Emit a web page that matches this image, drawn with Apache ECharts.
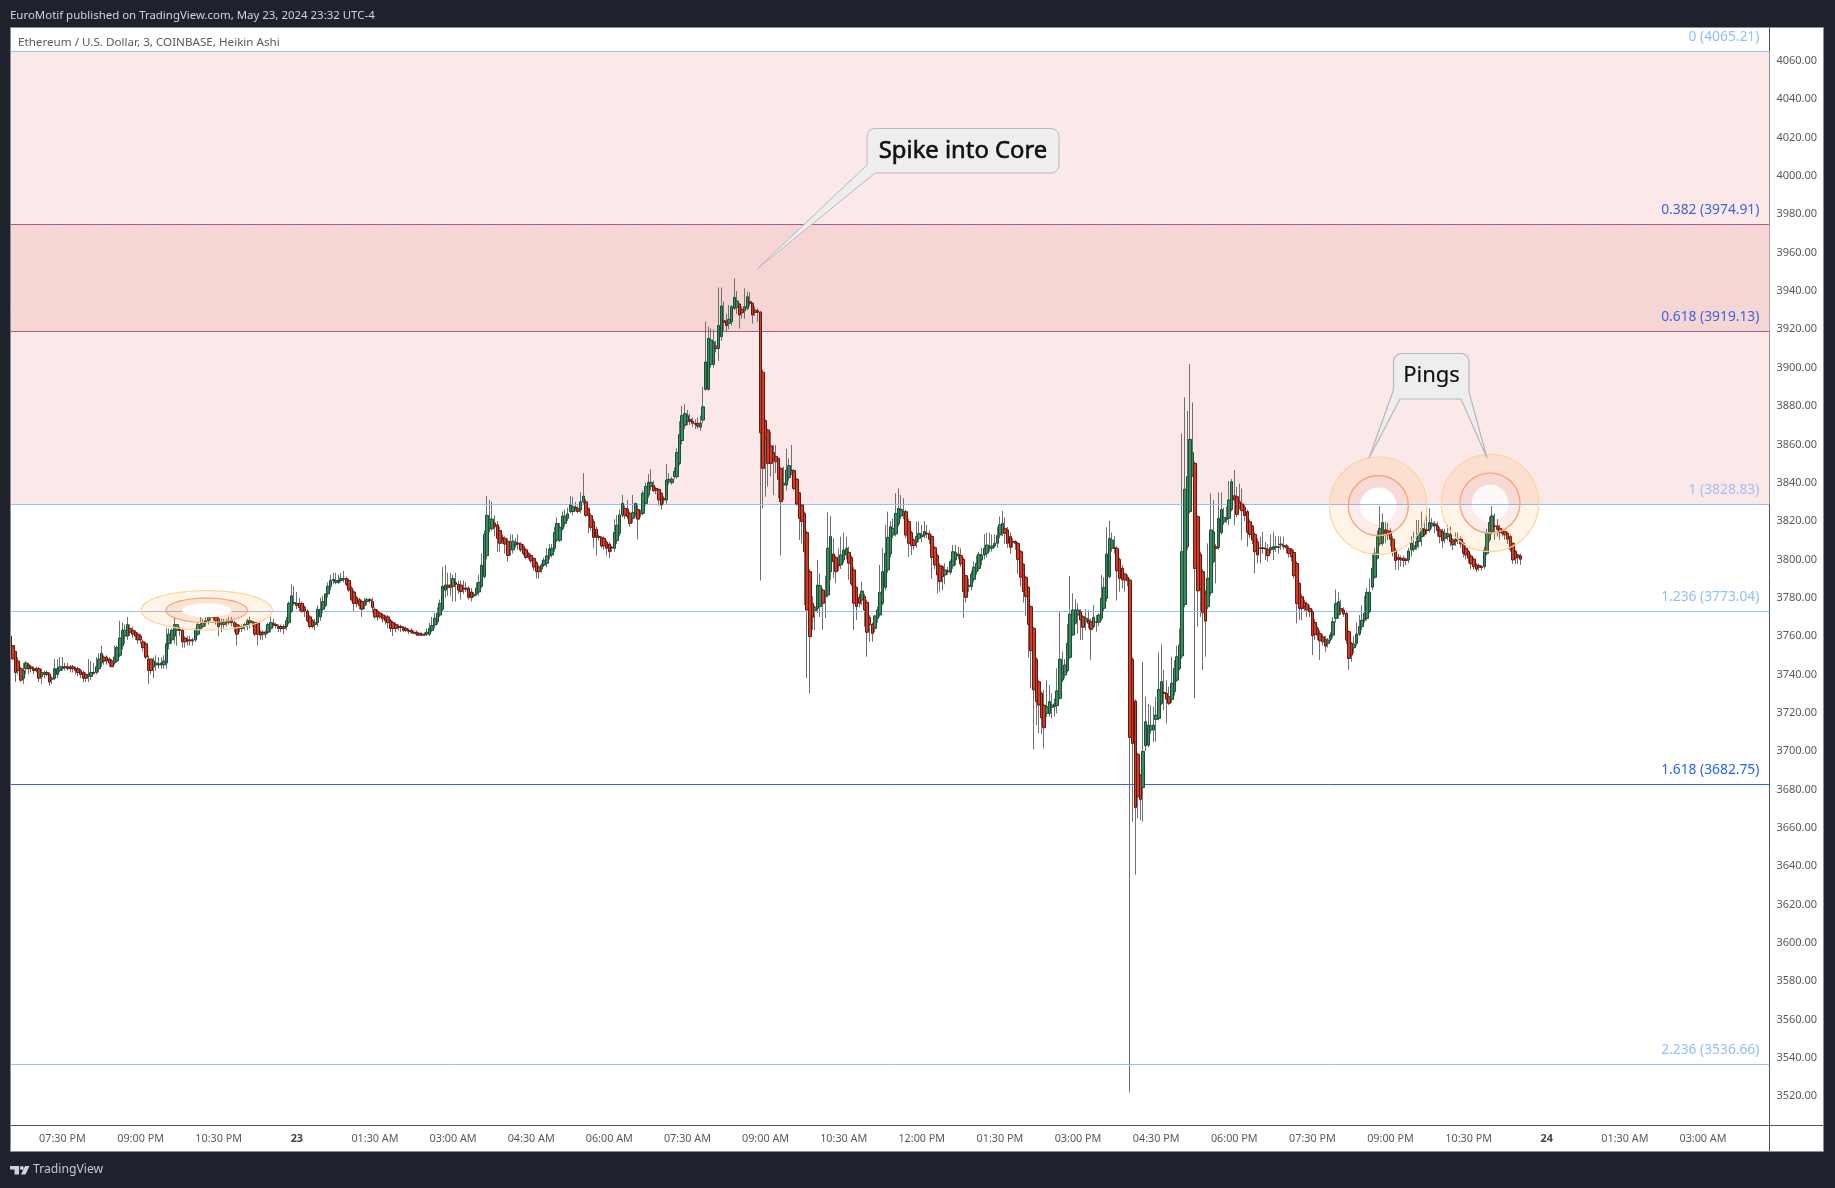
<!DOCTYPE html>
<html><head><meta charset="utf-8">
<style>html,body{margin:0;padding:0;background:#1e222d}#c{width:1835px;height:1188px}</style>
<script src="https://cdn.jsdelivr.net/npm/echarts@6/dist/echarts.min.js"></script>
</head><body><div id="c"></div>
<script>
const opens=[3760,3755,3752,3747,3743,3738,3743,3745,3744,3743,
3743,3743,3739,3740,3741,3740,3737.5,3738,3740,3742,
3743,3744,3744,3744,3744,3743,3743,3742,3741,3740,
3739,3739,3741,3741,3743,3746,3749,3749,3748,3747,
3746,3747,3750,3755,3760,3760,3764,3763,3762,3761,
3760,3757,3756,3748,3748,3744,3745,3745,3745,3745,
3746,3756,3758,3760,3763,3763.5,3763,3759,3758,3758,
3758,3758,3761,3764,3765,3767,3768,3770,3769.5,3770,
3769,3766,3766,3767,3767,3768,3767,3766,3764,3764,
3765,3766,3768,3767,3767,3767,3762,3762,3761,3762,
3764,3766.5,3766,3765,3765,3765,3765,3767,3773,3777,
3777,3777,3777,3775,3773,3770,3768,3766,3767,3770,
3774,3776,3782,3786,3789,3788,3788,3789,3789.5,3790,
3789,3785,3783,3780,3779,3778,3776,3778,3779,3778,
3774,3773,3772,3771,3770,3770,3768,3767,3766,3765,
3765,3764.5,3764,3763,3763,3762,3762,3761.5,3761,3760.5,
3761,3761,3763,3765.8,3767.5,3771,3774,3784,3786.6,3786.6,
3785.8,3788,3787,3786.6,3785,3785,3785,3783,3781,3782,
3783,3786,3791,3802,3816,3816,3819,3818,3815,3811.5,
3811,3809.5,3805,3805,3807.5,3808.5,3808,3806.6,3805,3803,
3802,3800.5,3798.3,3796,3795,3797,3798,3801.8,3802.3,3805.8,
3810,3810,3816,3818.8,3821.4,3825,3825,3827.2,3826.6,3825.8,
3830,3830,3826.6,3822.8,3819.7,3815.7,3812,3811.5,3811,3809,
3808,3806.3,3805.8,3809.8,3813.6,3823.2,3826.6,3826.3,3824,3821.4,
3824,3826,3823.7,3824,3829.2,3833.6,3838,3838.5,3837,3836.5,
3834.5,3831.8,3831,3840.5,3840,3843.2,3843.2,3850,3862,3870,
3872,3873,3872,3871,3871,3869,3872.7,3888.7,3888.7,3901.7,
3901.7,3911.3,3910,3916.2,3924.5,3924,3923.1,3924,3931,3931.5,
3933.2,3930.4,3929.7,3931,3934.4,3933.6,3930,3929.7,3929,3897.6,
3872.4,3867.5,3859.2,3855.7,3853.6,3852.7,3847.5,3838.8,3838.8,3842.8,
3846.6,3846.3,3841.8,3834.8,3828.4,3824,3814,3793.6,3777.1,3773.3,
3774.5,3775.4,3784,3780.6,3781.4,3793.6,3802.8,3801,3797.4,3797.1,
3799.7,3802.3,3803.7,3801,3794.5,3785.4,3780.2,3778.8,3780.6,3777.6,
3769.8,3766.1,3764,3769.3,3771,3777.1,3785.4,3794.5,3802.8,3812.7,
3813.3,3818.5,3822.6,3823.7,3824.9,3819.7,3814,3810.1,3808.9,3811,
3811.9,3812.7,3813.6,3813.3,3811.9,3806.1,3802,3796.7,3796.2,3791.9,
3794,3793.3,3796.6,3799.7,3801.8,3802,3800,3791.5,3785.8,3785.8,
3789.6,3793.6,3795.3,3799.7,3802.3,3803.2,3805.8,3805.8,3807,3808.4,
3812.7,3814,3816.2,3815.3,3811.9,3809.3,3809.3,3808.4,3804,3797.4,
3790.7,3785.4,3775.4,3764,3747.9,3736.2,3730.1,3724,3719.7,3719.7,
3722.8,3723.2,3723.7,3727.5,3737.1,3739.7,3742,3748.9,3760.6,3766.7,
3771,3772.7,3770.1,3767.5,3768.4,3767.5,3764.9,3767.4,3767.2,3769.3,
3774.5,3779.7,3791,3805.8,3806.1,3805.8,3800,3795.4,3792.4,3790.7,
3789.2,3747.8,3726.1,3698.3,3687.5,3681,3702.8,3703.1,3711,3711,
3716.5,3717,3724.9,3730.6,3730.1,3728.3,3727,3731,3737,3743.1,
3749.6,3776.5,3806.6,3824.9,3844,3850.1,3822.3,3802.6,3793.6,3782.6,
3775.3,3782.6,3798.8,3806.6,3806.2,3813.9,3819.6,3820.9,3821.4,3826,
3833.2,3832.7,3830.1,3828.9,3827.1,3824.9,3819.6,3817.4,3813,3809.2,
3806,3806,3805.7,3805.2,3804.9,3805.2,3806.2,3806.2,3807.5,3807.1,
3807.1,3805.7,3805.2,3803.6,3797.9,3787.5,3780.5,3777.6,3776.7,3774.4,
3772.7,3767.1,3764,3761.4,3759.6,3758.3,3756.2,3758.3,3760.5,3769.2,
3771,3774.4,3773.6,3771.8,3762.3,3756.2,3753.9,3756.2,3761,3764.9,
3768.3,3769.2,3772.8,3785.5,3790.7,3800.6,3808.1,3808.4,3815.4,3814.9,
3814.5,3810.5,3804.6,3801.1,3800.6,3800.6,3800.1,3799.7,3804.9,3805.3,
3806.7,3809.3,3811.9,3815.7,3815.4,3815.4,3817.5,3818.5,3817.5,3815.4,
3814.5,3811,3811.9,3812.8,3810.2,3809.3,3810.5,3810.5,3808.4,3805.8,
3804.1,3801.8,3800.1,3797.1,3796.8,3796.2,3796.2,3803.2,3810.2,3814.5,
3817.5,3817.5,3816.2,3815,3814.5,3813.6,3811.9,3808.4,3804.1,3802.3,
3801.8];
const closes=[3754,3748,3741,3742,3737,3742,3746,3743,3743,3742,
3742,3738,3741,3741,3740,3736,3738,3743,3743,3744,
3744,3743.5,3743,3743,3743,3742,3741,3740,3738,3738,
3740,3741,3740.5,3744,3748,3751,3747,3747,3746,3744,
3749,3754,3759,3763,3763,3766,3762,3761,3760,3758,
3758,3754,3749,3742,3742,3747,3746,3745.5,3746,3747,
3756,3761,3763,3766,3766,3763,3757,3757,3757.5,3757.5,
3757.5,3763,3766,3766,3767,3768,3770,3770.5,3770,3768,
3765,3767,3767,3767.5,3768,3767,3765,3761,3764.5,3765,
3766,3768,3767,3767.5,3761,3761,3760.5,3761,3762,3766,
3767,3766,3765.5,3764,3764,3764,3768,3777,3781,3777.5,
3776,3775,3773,3773,3768,3765,3765,3767,3774,3774,
3778,3782,3786,3789,3789.5,3789,3789,3790,3790,3787,
3784,3779,3777,3777,3776,3774,3778,3779,3778.5,3775,
3770,3770,3770,3769,3768,3767,3764,3764,3764,3764.5,
3764.5,3763,3763,3762.5,3762,3761.5,3761,3760.5,3760.5,3761,
3762,3764,3765.5,3769.3,3771.9,3777,3786,3786.6,3785.4,3785.4,
3790,3787,3784,3783.2,3784.8,3784.4,3780.2,3780,3781.8,3785,
3788,3797,3813,3823,3821,3821,3817,3811,3808.4,3810.5,
3808,3802,3806.6,3809.5,3809,3808,3805,3803,3801,3801.5,
3799.3,3796,3793.6,3793.6,3797,3799.6,3801.8,3805.4,3805.8,3814,
3818.8,3816.7,3822.6,3822.6,3823.7,3828.4,3827.5,3826.6,3825,3830,
3833,3823,3823,3816.7,3811.5,3811.5,3811.5,3807,3807,3805.8,
3804,3806,3814,3817.8,3823.2,3829.2,3822.8,3822.3,3818.8,3824.4,
3829.2,3821,3824,3834.5,3838,3840.2,3840.2,3835.9,3835.9,3831,
3828.4,3831,3841.4,3841.8,3841.8,3845.8,3855.7,3865,3875,3876,
3875,3872,3871,3870.5,3869.5,3871,3879.6,3903,3915.3,3914.4,
3913.5,3910,3922,3932.2,3923.7,3922,3925.2,3931.8,3936.7,3934.8,
3927.5,3928.7,3931.8,3937,3933.6,3927.5,3928.9,3928.9,3866,3847.5,
3863.2,3850.1,3850.1,3852.2,3851,3841.8,3830.1,3839.7,3846.6,3848.9,
3846.3,3837,3828.9,3821.4,3819.7,3804,3773.6,3759.7,3769.8,3775,
3786.6,3786.3,3777.1,3781.4,3805.8,3811.9,3798.8,3793.6,3796.6,3802.3,
3804.9,3805.8,3798,3787.2,3777.1,3775.4,3777.1,3783.5,3773.6,3762,
3765.8,3761.4,3770.5,3773.6,3782.8,3793.6,3803.2,3811.5,3817,3816.2,
3824,3826.6,3826.1,3824.9,3812.7,3808.4,3807.2,3807.2,3811.9,3813.6,
3812.7,3814.5,3813.3,3810.5,3801,3797.1,3791.9,3788.4,3791,3794.5,
3793.6,3798.8,3804,3803.5,3802.8,3797.6,3783.2,3780.2,3786.6,3792.4,
3795.9,3798,3802.6,3802.3,3805.8,3807.5,3806.6,3807,3808.4,3812.4,
3818,3818.8,3813.6,3808.4,3806.3,3809,3808.4,3800,3790.7,3783.2,
3780.6,3766.1,3752.4,3731.9,3725.8,3724,3717.4,3712.2,3723.2,3725.8,
3724,3724.6,3731.4,3747.9,3740.9,3744.9,3756.2,3771.4,3773.6,3773.6,
3773.6,3768.4,3764.6,3769.3,3766.7,3763.5,3769.8,3767.2,3771,3779.7,
3785.4,3802.8,3811,3810.1,3805.8,3794.1,3790.1,3789.3,3789.3,3788.9,
3707.1,3704,3670.6,3676.2,3674.8,3699.8,3715.3,3713.6,3713.2,3713.6,
3718.8,3732.2,3736.2,3730.1,3727.1,3724.9,3735.3,3743.1,3749.2,3755.3,
3804,3836.5,3843.1,3862.6,3855.6,3795.3,3783.6,3784.3,3772.4,3767.8,
3790.1,3815.3,3814.4,3805.7,3821.4,3826,3821.9,3821.7,3831,3840.5,
3831,3823.5,3828.9,3825.4,3822.8,3814.1,3813,3810.1,3804,3802.3,
3805.7,3805.7,3805.4,3801.9,3806.2,3806.6,3806.6,3806.6,3808,3806.6,
3806,3803.1,3801.4,3791.5,3777,3774.4,3774.4,3775.3,3773.6,3772.7,
3760.2,3760.9,3760.5,3757.6,3757,3754.8,3757.9,3760.5,3767.5,3777,
3777.9,3773,3771.5,3757.9,3748.3,3750.1,3755.8,3761,3764.9,3768.3,
3771.8,3782.8,3782.9,3795.4,3803.2,3811.9,3816.2,3819.2,3813.6,3812.8,
3810.5,3804.1,3799.4,3800,3799.7,3799.4,3799.4,3804.4,3808.4,3807,
3809.3,3813.6,3816.2,3813.1,3815,3819.2,3818.9,3817.5,3815,3811.9,
3809.8,3813.6,3813.3,3809.3,3807.6,3810.5,3810.3,3808.1,3803.2,3802.3,
3800.6,3797.6,3796.2,3794.9,3795.9,3795.7,3804.9,3813.6,3819.2,3822.7,
3817.1,3815.7,3814,3813.6,3812.8,3810.5,3805.3,3799.7,3800.6,3801.1,
3800.1];
const lows=[3754,3748,3736,3740,3736,3735,3740,3740,3741,3740,
3741,3736,3735,3738,3739,3734,3735,3737,3738,3741,
3742,3742,3742,3741,3741,3740,3739,3738,3736,3736,
3736,3737,3740,3740,3741,3744,3745,3745,3744,3744,
3745,3746,3749,3753,3756,3758,3760,3759,3758,3756,
3756,3752,3748,3735,3740,3738,3742,3743,3743,3743,
3743,3753,3756,3756,3755,3760,3754,3754,3755,3755,
3755,3757,3760,3763,3764,3765,3766,3768,3768,3766,
3760,3762,3764,3765,3766,3765,3762,3755,3762,3762,
3763,3763,3764,3765,3760,3755,3758,3758,3759,3761,
3762,3765,3764,3762,3762,3761,3763,3766,3772,3776,
3774,3773,3772,3770,3767,3764,3764,3763,3765,3768,
3772,3775,3780,3784,3787,3787,3787,3788,3788,3786,
3783,3778,3773,3775,3774,3770,3774,3776,3777,3772,
3769,3768,3769,3767,3766,3764,3762,3760,3762,3763,
3762,3762,3762,3761,3761,3761,3760,3760,3760,3760,
3760,3760,3762,3764,3766,3770,3773,3780,3781,3781,
3778,3778,3782,3779,3782,3783,3779,3778,3780,3781,
3781,3785,3790,3800,3814,3815,3812,3804,3804,3808,
3803,3799,3802,3803,3806,3805,3804,3802,3800,3800,
3798,3794,3790,3790,3793,3796,3796,3800,3801,3804,
3809,3809,3815,3817,3820,3824,3823,3825,3824,3824,
3829,3822,3813.6,3815,3806,3802,3810,3806,3805,3802,
3800.5,3804,3804,3808,3812,3822,3821,3821,3817,3819,
3822,3810.5,3822,3823,3828,3832,3836,3835,3834,3828,
3826,3829,3829,3839,3839,3842,3842,3849,3860,3868,
3870,3870,3869,3868,3868,3867,3871,3888,3888,3900,
3900,3908,3903.6,3914,3919,3919,3920,3922,3930,3928,
3920.4,3925.5,3925.5,3930,3932,3923,3927,3924,3789,3826.6,
3832.7,3838,3843.2,3833.6,3845,3831.9,3802,3831,3836,3841,
3844,3836,3828,3810.1,3808.4,3776.2,3738,3730,3763.2,3763,
3772,3770,3763.2,3769.3,3780,3789.3,3790.1,3787.5,3794,3795,
3798,3800,3789.3,3786,3763.2,3768.4,3775,3776,3764.9,3749.3,
3757,3757,3762,3767,3770,3776,3784,3793,3801,3811,
3812,3817,3821,3821,3811,3801.4,3802.3,3805,3806,3809,
3809,3811,3811,3808,3789.8,3795,3782.3,3783.2,3784,3787,
3792,3792,3795,3797,3800,3796,3769.6,3777.4,3783,3784,
3788,3792,3794,3797,3800,3801,3804,3804,3806,3806,
3811,3812,3808,3806,3803,3806,3805,3792.4,3785.8,3777.4,
3770.5,3748.7,3732.7,3700.9,3713.6,3709.3,3708.8,3701.4,3717.6,3718,
3717.1,3718,3719.7,3727,3736,3738,3741,3748,3760,3766,
3761.4,3758,3758,3763,3764,3747.5,3764,3762.3,3765,3768,
3773,3778,3790,3804,3803,3778.5,3783.2,3784.9,3783.2,3786,
3522,3663.1,3635.5,3664.9,3664,3663.1,3700,3702,3709,3704.9,
3704.9,3716,3724,3721.4,3714.4,3724,3725,3729,3736,3742,
3748,3775,3805,3824,3843,3727.5,3764.9,3770.1,3742.3,3749.2,
3774,3781,3798,3787.5,3805,3813,3818,3819,3817.9,3825,
3817.9,3822,3826,3810.1,3820,3806.6,3811,3808,3792.7,3797.9,
3797.9,3803,3799.6,3799,3803,3799.6,3804,3803,3805,3805,
3803,3801,3799,3790,3766.6,3768.3,3768.3,3773,3770,3770,
3750.1,3758,3757.9,3747.5,3755,3751.8,3754,3757,3759,3767,
3769,3771,3770,3756,3742.3,3746.6,3751,3755,3760,3763,
3767,3768,3772,3784,3790,3800,3807,3807,3808.4,3810,
3806.7,3801.5,3794.5,3794.5,3796.2,3795.9,3797,3798,3801.5,3804,
3805,3805.8,3806.7,3811.9,3813,3814,3816,3813.6,3811.9,3808.4,
3805.8,3808.4,3810,3806.7,3804.9,3807,3808,3806,3801.1,3800,
3798,3794.9,3794.5,3793.3,3794,3794,3795,3802,3809,3813,
3810.2,3811.9,3810.2,3812,3810.2,3808.1,3804,3797.6,3797.6,3797.6,
3797.1];
const highs=[3760,3755,3752,3749,3744,3746,3747,3746,3745,3744,
3744,3744,3743,3742,3742,3741,3739,3748,3748,3749,
3749,3746,3746,3745,3745,3744,3744,3743,3742,3741,
3748,3747,3746,3749,3751,3755,3750,3750,3749,3748,
3755,3755,3768,3767,3766,3770,3766,3765,3763,3762,
3761,3758,3757,3750,3748,3749,3750,3749,3749,3750,
3764,3764,3764,3770,3766,3765,3764,3760,3760,3760,
3759,3764,3767,3770,3769,3770,3773,3772,3774,3771,
3770,3769,3769,3769,3770,3770,3768,3767,3766,3766,
3767,3769,3770,3768,3767.5,3767,3763,3763,3763,3767,
3770,3769,3767,3766,3766,3766,3770,3778,3787,3786,
3783,3780,3778,3776,3774,3771,3769,3769,3776,3780,
3781,3782,3788,3792,3793,3793,3792,3793,3794,3791,
3790,3786,3784,3781,3780,3779,3780,3780,3780,3780,
3775,3774,3773,3772,3771,3771,3769,3768,3767,3766,
3766,3765,3765,3764,3764,3763,3763,3762,3762,3762,
3764,3767,3770,3772,3775,3779,3796,3797,3793,3793,
3792,3793,3789,3789,3789,3788,3786,3785,3783,3788,
3792,3803,3815,3833,3831,3830,3823,3820,3817,3813,
3812,3811,3813,3813,3811,3813,3809,3808,3806,3804,
3803,3801,3799,3797,3798,3801,3806,3808,3808,3817,
3822,3819,3825,3826,3827,3833,3832.7,3830,3828,3835,
3845,3831.5,3827,3824,3821,3817,3813,3812,3812,3810,
3809,3807,3821,3823,3826,3833.6,3828,3831,3825,3833.6,
3829.5,3829,3826,3836,3840,3844.5,3847,3841,3838,3837,
3835,3833,3849.8,3845,3843,3848,3858,3872,3880,3881,
3878,3876,3874,3873,3874,3875,3890,3924,3921.4,3920.5,
3920,3914,3941.9,3941.9,3934.5,3928,3932.7,3932.7,3946.6,3940,
3933.5,3932,3941.4,3939.7,3939.3,3934,3932,3931,3929.5,3899,
3873,3868,3866.6,3859.7,3859.7,3853,3848,3848.4,3857.6,3852.7,
3859.7,3847,3842.5,3835,3829,3825,3815,3795,3780.9,3776,
3799.7,3792.7,3785,3791.5,3824.6,3822.6,3811,3802,3805.8,3811.9,
3814,3811.9,3806.6,3802,3796,3786,3782,3788.4,3782,3779,
3771,3767,3771,3775.4,3797.1,3805.8,3818,3824.9,3820,3821.4,
3834.5,3837.1,3833.6,3831.9,3826,3821,3815,3811,3819.7,3819.7,
3818,3820,3818,3815,3813,3807,3803,3798,3797,3798,
3796,3800,3807.5,3807.5,3806.6,3805.8,3801,3792,3790,3794,
3799,3802,3804,3806,3813.3,3814,3814,3813,3813,3817,
3822.3,3825.3,3822,3817,3814,3811,3810,3809,3805,3798,
3791.5,3786,3776,3765,3749,3737,3731,3731.9,3737.1,3734.5,
3730.1,3727.5,3743.2,3772.7,3751.9,3748,3766.3,3791.4,3782.3,3779.2,
3777.1,3774,3771,3774,3773.6,3769,3776.2,3771,3771.9,3791.9,
3790.7,3816.7,3820.2,3814,3812,3807,3801,3797,3793,3792,
3790,3749,3727,3699,3688,3746.6,3728.3,3724.5,3724,3723.1,
3728.3,3751.5,3755.6,3742.3,3737,3733.6,3749.2,3747.5,3755,3764,
3865.7,3884.5,3877.4,3901.9,3881.9,3851,3823,3804,3795,3784,
3808.3,3834.4,3831,3808,3834.9,3834.9,3827,3827.5,3840.9,3842,
3846.6,3837.9,3839.6,3837,3829,3826,3821,3818,3814,3811,
3811.8,3814.4,3809.2,3808,3813,3814.4,3812,3812,3812,3811.8,
3808,3807,3806,3805,3799,3788,3782,3779,3778,3776,
3774,3769,3765,3763,3761,3760,3759,3762,3770,3784.3,
3783.1,3779,3775,3773,3763,3757,3760,3767,3771,3776,
3781,3785,3790,3803.2,3806,3815,3827.9,3824,3819.7,3819,
3816.2,3812,3806,3803,3802,3802,3801,3806,3812,3814.5,
3820.6,3820.6,3825,3820.6,3826.7,3826.7,3821.5,3820,3819.7,3817,
3816,3816,3818,3817.1,3811,3814,3814,3812,3809,3807,
3805,3803,3801,3798,3798,3797,3806.7,3816,3822.3,3827.9,
3824,3821,3818,3816,3815,3814.5,3813,3809,3805,3803,
3803];
const timeTicks=['07:30 PM','09:00 PM','10:30 PM','23','01:30 AM','03:00 AM','04:30 AM','06:00 AM','07:30 AM','09:00 AM','10:30 AM','12:00 PM','01:30 PM','03:00 PM','04:30 PM','06:00 PM','07:30 PM','09:00 PM','10:30 PM','24','01:30 AM','03:00 AM'];
const priceTicks=[3520,3540,3560,3580,3600,3620,3640,3660,3680,3700,3720,3740,3760,3780,3800,3820,3840,3860,3880,3900,3920,3940,3960,3980,4000,4020,4040,4060];
const fibRatios=['0','0.382','0.618','1','1.236','1.618','2.236'];
const fibPrices=[4065.21,3974.91,3919.13,3828.83,3773.04,3682.75,3536.66];
const fibColors=['#90bff9','#3d63dd','#3d63dd','#a6bdf2','#90bff9','#2962ff','#90bff9'];
const lineColors=['#90bff9','#4a5fd0','#4a5fd0','#90bff9','#90bff9','#2962ff','#90bff9'];
const totalBars=676, firstTick=20, tickStep=30;

const categories=[];
for(let i=0;i<totalBars;i++){const k=(i-firstTick)/tickStep;categories.push(Number.isInteger(k)&&k>=0&&timeTicks[k]?timeTicks[k]+'|'+i:'|'+i);}
const wickData=opens.map((o,i)=>[o,closes[i],lows[i],highs[i]]);
const bodyData=opens.map((o,i)=>[o,closes[i],Math.min(o,closes[i]),Math.max(o,closes[i])]);
const font='"Noto Sans"';
const fibLines=[];
fibPrices.forEach((p,i)=>{
  const dotted=i===1||i===2;
  fibLines.push({yAxis:p,lineStyle:{color:lineColors[i],width:1,type:dotted?[1.5,1.5]:'solid'},
    label:{show:true,formatter:fibRatios[i]+' ('+p.toFixed(2)+')',color:fibColors[i],fontFamily:font,fontSize:13.8,position:'insideEndTop',distance:7,padding:[0,3,0,0]}});
  if(dotted)fibLines.push({yAxis:p,lineStyle:{color:'#d8404a',width:1,type:[1.5,1.5],dashOffset:1.5},label:{show:false}});
});
const ringOuter={fill:'rgba(255,152,0,0.10)',stroke:'#ffd29e',lineWidth:1.2};
const ringMid={fill:'rgba(240,80,50,0.10)',stroke:'#f2a583',lineWidth:1.2};
function arcPts(cx,cy,rx,ry,a0,a1,n){const p=[];for(let k=0;k<=n;k++){const a=(a0+(a1-a0)*k/n)*Math.PI/180;p.push([cx+rx*Math.cos(a),cy+ry*Math.sin(a)]);}return p;}
function circle(cx,cy,hole){return [
 {type:'circle',z:3,shape:{cx,cy,r:18.3},style:{fill:'#fff',opacity:hole}},
 {type:'ring',z:10,shape:{cx,cy,r:48.7,r0:30},style:ringOuter},
 {type:'ring',z:10,shape:{cx,cy,r:30,r0:18.3},style:{fill:ringMid.fill}},
 {type:'circle',z:10,shape:{cx,cy,r:30},style:{fill:null,stroke:ringMid.stroke,lineWidth:1.2}}
];}
function ell(rx,ry,style){return {type:'polygon',z:10,shape:{points:arcPts(206.7,610.3,rx,ry,0,360,72)},style};}
const spikeCallout=[...arcPts(875,136.5,8,8,180,270,6),...arcPts(1051,136.5,8,8,270,360,6),...arcPts(1051,165,8,8,0,90,6),[875,173],[757,269],[867,165]];
const pingsCallout=[...arcPts(1402,361.5,8.5,8,180,270,6),...arcPts(1461,361.5,8,8,270,360,6),[1469,392],[1487,458],[1461,399],[1400,399],[1369,458],[1393.5,390]];
const dark='#1e222d';
const elements=[
 {type:'rect',z:0,shape:{x:10.5,y:27.5,width:1813,height:1124},style:{fill:'#fff',stroke:'#8b8e96',lineWidth:1}},
 {type:'rect',z:9,shape:{x:0,y:20,width:10,height:1140},style:{fill:dark}},
 {type:'line',z:9,shape:{x1:10.5,y1:27.5,x2:10.5,y2:1151.5},style:{stroke:'#8b8e96',lineWidth:1}},
 {type:'line',z:9,shape:{x1:1769.5,y1:1125,x2:1769.5,y2:1151},style:{stroke:'#4f5159',lineWidth:1}},
 {type:'line',z:9,shape:{x1:1769,y1:1125.5,x2:1823,y2:1125.5},style:{stroke:'#4f5159',lineWidth:1}},
 {type:'text',z:12,style:{text:'EuroMotif published on TradingView.com, May 23, 2024 23:32 UTC-4',x:10,y:16,fill:'#d1d4dc',fontFamily:font,fontSize:11.45,textVerticalAlign:'middle'}},
 {type:'text',z:12,style:{text:'Ethereum / U.S. Dollar, 3, COINBASE, Heikin Ashi',x:18,y:43,fill:'#555a62',fontFamily:font,fontSize:11.65,textVerticalAlign:'middle'}},
 {type:'text',z:12,style:{text:'TradingView',x:33,y:1170,fill:'#c5c8cf',fontFamily:font,fontSize:12.2,textVerticalAlign:'middle'}},
 {type:'polygon',z:12,shape:{points:[[10,1166],[19,1166],[19,1174.5],[14.5,1174.5],[14.5,1169.5],[10,1169.5]]},style:{fill:'#d1d4dc'}},
 {type:'polygon',z:12,shape:{points:[[25,1166],[29.5,1166],[25.5,1174.5],[21,1174.5]]},style:{fill:'#d1d4dc'}},
 {type:'circle',z:12,shape:{cx:21.8,cy:1168,r:2},style:{fill:'#d1d4dc'}},
 ell(65.7,19.7,ringOuter),
 ell(40.8,12.2,ringMid),
 ell(24.7,7,{fill:'rgba(255,255,255,0.93)'}),
 ...circle(1378.3,505.7,1),
 ...circle(1490,503,0.7),
 {type:'polygon',z:11,shape:{points:spikeCallout},style:{fill:'#eeeeee',stroke:'#b7b7be',lineWidth:1}},
 {type:'text',z:12,style:{text:'Spike into Core',x:963,y:151,fill:'#111',stroke:'#111',lineWidth:0.6,fontFamily:font,fontSize:23.8,textAlign:'center',textVerticalAlign:'middle'}},
 {type:'polygon',z:11,shape:{points:pingsCallout},style:{fill:'#eeeeee',stroke:'#b7b7be',lineWidth:1.2}},
 {type:'text',z:12,style:{text:'Pings',x:1431.5,y:376,fill:'#111',stroke:'#111',lineWidth:0.2,fontFamily:font,fontSize:22,textAlign:'center',textVerticalAlign:'middle'}}
];
const chart=echarts.init(document.getElementById('c'));
chart.setOption({
 animation:false,backgroundColor:dark,
 graphic:{elements},
 grid:{left:9.1,width:1760.3,top:28,height:1097,show:false},
 xAxis:{type:'category',data:categories,boundaryGap:true,
  axisLine:{show:true,lineStyle:{color:'#4f5159',width:1}},axisTick:{show:false},splitLine:{show:false},
  axisLabel:{interval:(i,v)=>v.split('|')[0]!=='',hideOverlap:false,margin:8,fontFamily:font,fontSize:10.8,color:'#555a62',
   formatter:v=>{const t=v.split('|')[0];return /^\d+$/.test(t)?'{b|'+t+'}':t;},
   rich:{b:{fontFamily:font,fontSize:10.8,fontWeight:'bold',color:'#444'}}}},
 yAxis:{type:'value',position:'right',min:3504.95,max:4077.2,scale:true,
  axisLine:{show:true,lineStyle:{color:'#4f5159',width:1}},axisTick:{show:false,customValues:priceTicks},splitLine:{show:false},
  axisLabel:{customValues:priceTicks,margin:7,padding:[2,0,0,0],fontFamily:font,fontSize:11,color:'#555a62',formatter:v=>v.toFixed(2)}},
 series:[
  {type:'line',name:'zones',z:1,data:[],silent:true,markArea:{silent:true,itemStyle:{opacity:1},data:[
    [{yAxis:fibPrices[3],itemStyle:{color:'#fbe9e9'}},{yAxis:fibPrices[0]}],
    [{yAxis:fibPrices[2],itemStyle:{color:'#f6d5d5'}},{yAxis:fibPrices[1]}]]}},
  {type:'candlestick',name:'wicks',z:4,data:wickData,barWidth:1,clip:true,
   itemStyle:{color:'#707070',color0:'#707070',borderColor:'#707070',borderColor0:'#707070',borderColorDoji:'#707070',borderWidth:1}},
  {type:'candlestick',name:'ETHUSD',z:5,data:bodyData,barWidth:3,clip:true,
   itemStyle:{color:'#3d8a5f',color0:'#cf3c28',borderColor:'#1a4f36',borderColor0:'#6a170f',borderColorDoji:'#6a170f',borderWidth:1}},
  {type:'line',name:'levels',z:6,data:[],silent:true,markLine:{silent:true,symbol:'none',animation:false,data:fibLines}}
 ]
});
</script></body></html>
